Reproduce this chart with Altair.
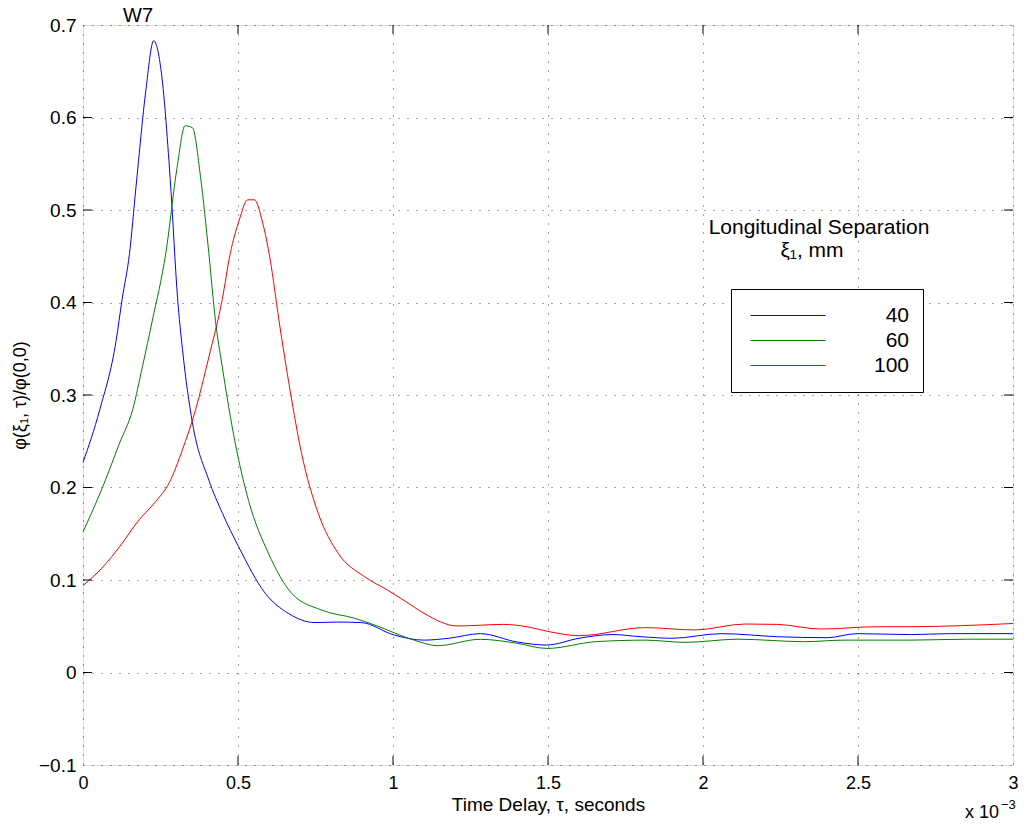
import altair as alt
import pandas as pd

# ---- data (tau in units of 1e-3 s) ----
tau_40 = [0, 0.054, 0.107, 0.126, 0.150, 0.171, 0.203, 0.228, 0.253, 0.283, 0.305, 0.321,
          0.353, 0.406, 0.45, 0.502, 0.588, 0.662, 0.748, 0.82, 0.897, 1.004, 1.10, 1.18,
          1.282, 1.40, 1.496, 1.60, 1.707, 1.80, 1.90, 2.059, 2.241, 2.40, 2.497, 2.67, 2.796, 3.0]
phi_40 = [0.227, 0.284, 0.359, 0.403, 0.453, 0.525, 0.630, 0.683, 0.648, 0.525, 0.405, 0.349,
          0.270, 0.208, 0.172, 0.136, 0.0856, 0.064, 0.054, 0.0545, 0.054, 0.0405, 0.035, 0.037,
          0.042, 0.033, 0.0297, 0.037, 0.041, 0.0387, 0.037, 0.042, 0.0387, 0.0376, 0.042, 0.041, 0.042, 0.042]

tau_60 = [0, 0.064, 0.118, 0.160, 0.192, 0.224, 0.267, 0.304, 0.329, 0.353, 0.379, 0.406,
          0.427, 0.449, 0.491, 0.534, 0.598, 0.673, 0.769, 0.876, 0.940, 1.068, 1.143, 1.282,
          1.40, 1.496, 1.654, 1.814, 1.942, 2.113, 2.327, 2.455, 2.67, 2.85, 3.0]
phi_60 = [0.152, 0.201, 0.248, 0.284, 0.331, 0.381, 0.453, 0.547, 0.591, 0.589, 0.536, 0.453,
          0.381, 0.331, 0.248, 0.186, 0.129, 0.0856, 0.0676, 0.0586, 0.0514, 0.035, 0.029, 0.0359,
          0.0316, 0.026, 0.0333, 0.035, 0.0326, 0.036, 0.0333, 0.035, 0.035, 0.036, 0.036]

tau_100 = [0, 0.064, 0.118, 0.181, 0.235, 0.278, 0.321, 0.363, 0.406, 0.449, 0.475, 0.504,
           0.531, 0.553, 0.579, 0.604, 0.632, 0.668, 0.705, 0.759, 0.823, 0.908, 0.983, 1.04,
           1.10, 1.207, 1.357, 1.432, 1.506, 1.60, 1.814, 1.974, 2.135, 2.241, 2.38, 2.562,
           2.67, 2.83, 3.0]
phi_100 = [0.094, 0.114, 0.136, 0.165, 0.185, 0.205, 0.241, 0.284, 0.341, 0.403, 0.453, 0.489,
           0.511, 0.511, 0.487, 0.446, 0.381, 0.305, 0.237, 0.172, 0.129, 0.1036, 0.089, 0.077,
           0.064, 0.0503, 0.052, 0.0495, 0.044, 0.0398, 0.0485, 0.046, 0.0524, 0.052, 0.047,
           0.0495, 0.0495, 0.0506, 0.053]

separations = ["40", "60", "100"]
colors = ["#0000ff", "#008000", "#ff0000"]

x_ticks = [0, 0.5, 1, 1.5, 2, 2.5, 3]
y_ticks = [-0.1, 0, 0.1, 0.2, 0.3, 0.4, 0.5, 0.6, 0.7]

FONT = "Liberation Sans"

rows = []
for sep, xs, ys in zip(separations, [tau_40, tau_60, tau_100], [phi_40, phi_60, phi_100]):
    for x, y in zip(xs, ys):
        rows.append({"sep": sep, "tau": x, "phi": y})
df = pd.DataFrame(rows)

xscale = alt.Scale(domain=[0, 3], nice=False, zero=False)
yscale = alt.Scale(domain=[-0.1, 0.7], nice=False, zero=False)

lines = alt.Chart(df).mark_line(strokeWidth=1, interpolate="monotone").encode(
    x=alt.X("tau:Q", scale=xscale,
            axis=alt.Axis(values=x_ticks, format=".1~f", title="Time Delay, τ, seconds",
                          grid=True, gridDash=[1, 8], gridColor="#000", gridOpacity=0.7,
                          domain=False, ticks=False, labelPadding=9, labelFontSize=18,
                          labelFont=FONT, labelColor="#000", titleFont=FONT, titleFontSize=19,
                          titleFontWeight="normal", titleColor="#000",
                          titleBaseline="middle", titleY=39, labelFlush=False)),
    y=alt.Y("phi:Q", scale=yscale,
            axis=alt.Axis(values=y_ticks, format=".1~f", title="φ(ξ₁, τ)/φ(0,0)",
                          grid=True, gridDash=[1, 8], gridColor="#000", gridOpacity=0.7,
                          domain=False, ticks=False, labelPadding=7, labelFontSize=19,
                          labelFont=FONT, labelColor="#000", titleFont=FONT, titleFontSize=18,
                          titleFontWeight="normal", titleColor="#000",
                          titleBaseline="middle", titleX=-63, labelFlush=False)),
    color=alt.Color("sep:N",
                    scale=alt.Scale(domain=separations, range=colors),
                    legend=alt.Legend(title=None, orient="none", legendX=648, legendY=264,
                                      symbolType="stroke", symbolSize=5625,
                                      symbolStrokeWidth=1, symbolOffset=5, clipHeight=25,
                                      rowPadding=0, padding=14, labelOffset=83,
                                      labelAlign="right", labelFontSize=21, labelFont=FONT,
                                      labelColor="#000", strokeColor="#000",
                                      fillColor="#fff")),
)

# inward ticks on all four sides, placed from the tick lists
inner_x = [v for v in x_ticks if 0 < v < 3]
inner_y = [v for v in y_ticks if -0.1 < v < 0.7]
tick_rows = []
for v in inner_x:
    tick_rows.append({"x": v, "x2": v, "y": -0.1, "y2": -0.1 + 0.0097})
    tick_rows.append({"x": v, "x2": v, "y": 0.7, "y2": 0.7 - 0.0097})
for v in inner_y:
    tick_rows.append({"x": 0, "x2": 0.029, "y": v, "y2": v})
    tick_rows.append({"x": 3, "x2": 3 - 0.029, "y": v, "y2": v})
ticks = alt.Chart(pd.DataFrame(tick_rows)).mark_rule(color="#000", strokeWidth=1).encode(
    x=alt.X("x:Q", scale=xscale), x2="x2:Q",
    y=alt.Y("y:Q", scale=yscale), y2="y2:Q",
)

def label(text, x, y, size, align="center", baseline="middle"):
    return alt.Chart(pd.DataFrame({"t": [text]})).mark_text(
        font=FONT, fontSize=size, color="#000", align=align, baseline=baseline
    ).encode(text="t:N", x=alt.value(x), y=alt.value(y))

title_w7 = label("W7", 55, -3, 20, baseline="alphabetic")
legend_title1 = label("Longitudinal Separation", 736, 203, 21)
legend_title2 = label("ξ₁, mm", 729, 226, 21)
exp_base = label("x 10", 916, 793, 18, align="right", baseline="alphabetic")
exp_sup = label("−3", 918, 784, 13, align="left", baseline="alphabetic")

chart = alt.layer(lines, ticks, title_w7, legend_title1, legend_title2, exp_base, exp_sup).properties(
    width=930, height=740,
    padding={"left": 75, "top": 17, "right": 5, "bottom": 59},
    autosize=alt.AutoSizeParams(type="none"),
).configure_view(stroke="#000", strokeWidth=1.2).configure(background="#fff")

chart.save("out.html", embed_options={"renderer": "svg", "actions": False})
